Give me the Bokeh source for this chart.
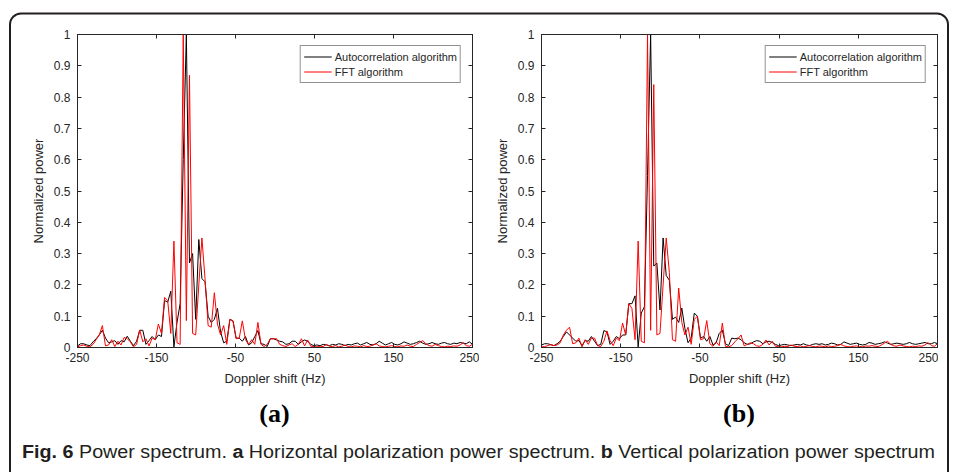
import numpy as np
from bokeh.plotting import figure
from bokeh.models import (FixedTicker, LinearAxis, Range1d, Legend, LegendItem, Div,
                          CustomJSTickFormatter)
from bokeh.layouts import row, column
from bokeh.embed import file_html
from bokeh.resources import INLINE

# ---------------- data ----------------
doppler_hz = np.linspace(-250, 250, 128)   # frequency bins of the spectrum

auto_h = [0.005, 0.012, 0.012, 0.008, 0.006, 0.018, 0.028, 0.040, 0.055, 0.030,
          0.015, 0.018, 0.022, 0.010, 0.022, 0.018, 0.036, 0.020, 0.006, 0.020,
          0.055, 0.055, 0.010, 0.022, 0.035, 0.025, 0.040, 0.035, 0.150, 0.145,
          0.180, 0.002, 0.080, 0.140, 0.600, 1.000, 0.270, 0.300, 0.090, 0.345,
          0.220, 0.210, 0.100, 0.080, 0.090, 0.125, 0.050, 0.015, 0.020, 0.090,
          0.085, 0.030, 0.030, 0.020, 0.035, 0.008, 0.015, 0.035, 0.054, 0.012,
          0.010, 0.003, 0.028, 0.028, 0.024, 0.020, 0.018, 0.010, 0.012, 0.020,
          0.020, 0.010, 0.018, 0.024, 0.020, 0.010, 0.006, 0.008, 0.006, 0.010,
          0.008, 0.006, 0.010, 0.008, 0.012, 0.010, 0.006, 0.010, 0.008, 0.012,
          0.014, 0.008, 0.012, 0.016, 0.010, 0.008, 0.012, 0.020, 0.014, 0.008,
          0.012, 0.016, 0.010, 0.008, 0.012, 0.018, 0.014, 0.010, 0.012, 0.016,
          0.020, 0.014, 0.010, 0.012, 0.016, 0.012, 0.010, 0.014, 0.016, 0.012,
          0.010, 0.014, 0.012, 0.016, 0.014, 0.012, 0.018, 0.010]

fft_h = [0.002, 0.006, 0.008, 0.004, 0.002, 0.010, 0.025, 0.040, 0.070, 0.005,
         0.008, 0.025, 0.003, 0.020, 0.008, 0.032, 0.028, 0.018, 0.002, 0.010,
         0.056, 0.018, 0.028, 0.005, 0.030, 0.025, 0.075, 0.045, 0.160, 0.150,
         0.045, 0.340, 0.015, 0.010, 1.000, 0.086, 0.870, 0.045, 0.040, 0.200,
         0.350, 0.220, 0.070, 0.065, 0.175, 0.075, 0.040, 0.070, 0.010, 0.090,
         0.085, 0.028, 0.030, 0.085, 0.025, 0.010, 0.025, 0.010, 0.080, 0.010,
         0.003, 0.010, 0.028, 0.028, 0.028, 0.010, 0.006, 0.003, 0.008, 0.012,
         0.003, 0.010, 0.028, 0.005, 0.024, 0.004, 0.003, 0.002, 0.004, 0.003,
         0.010, 0.004, 0.003, 0.006, 0.002, 0.004, 0.008, 0.003, 0.002, 0.005,
         0.004, 0.002, 0.006, 0.003, 0.004, 0.008, 0.012, 0.005, 0.003, 0.002,
         0.004, 0.006, 0.003, 0.002, 0.005, 0.004, 0.008, 0.004, 0.003, 0.010,
         0.016, 0.022, 0.012, 0.006, 0.004, 0.010, 0.006, 0.003, 0.002, 0.004,
         0.003, 0.005, 0.004, 0.008, 0.015, 0.006, 0.004, 0.010]

auto_v = [0.008, 0.012, 0.012, 0.009, 0.006, 0.012, 0.020, 0.035, 0.050, 0.040,
          0.030, 0.020, 0.022, 0.006, 0.022, 0.020, 0.035, 0.020, 0.006, 0.010,
          0.054, 0.050, 0.010, 0.020, 0.035, 0.028, 0.040, 0.040, 0.140, 0.140,
          0.165, 0.002, 0.110, 0.130, 0.550, 1.000, 0.260, 0.270, 0.120, 0.350,
          0.230, 0.215, 0.090, 0.097, 0.080, 0.126, 0.060, 0.015, 0.030, 0.110,
          0.100, 0.030, 0.035, 0.020, 0.035, 0.008, 0.015, 0.045, 0.055, 0.012,
          0.006, 0.030, 0.028, 0.030, 0.025, 0.015, 0.010, 0.012, 0.018, 0.022,
          0.020, 0.012, 0.018, 0.020, 0.016, 0.010, 0.006, 0.008, 0.010, 0.008,
          0.006, 0.008, 0.010, 0.008, 0.012, 0.008, 0.006, 0.010, 0.012, 0.010,
          0.012, 0.008, 0.010, 0.014, 0.012, 0.008, 0.010, 0.018, 0.014, 0.010,
          0.012, 0.014, 0.010, 0.008, 0.010, 0.016, 0.014, 0.010, 0.012, 0.014,
          0.018, 0.014, 0.010, 0.012, 0.014, 0.012, 0.010, 0.012, 0.016, 0.012,
          0.010, 0.012, 0.014, 0.016, 0.012, 0.012, 0.016, 0.012]

fft_v = [0.002, 0.003, 0.006, 0.009, 0.006, 0.008, 0.015, 0.040, 0.055, 0.065,
         0.012, 0.015, 0.030, 0.002, 0.025, 0.010, 0.030, 0.030, 0.006, 0.003,
         0.020, 0.053, 0.022, 0.006, 0.030, 0.022, 0.078, 0.040, 0.140, 0.125,
         0.025, 0.340, 0.020, 0.015, 1.000, 0.055, 0.840, 0.040, 0.045, 0.200,
         0.350, 0.240, 0.025, 0.020, 0.190, 0.080, 0.040, 0.065, 0.010, 0.090,
         0.100, 0.025, 0.028, 0.086, 0.012, 0.004, 0.018, 0.006, 0.078, 0.004,
         0.002, 0.006, 0.018, 0.028, 0.040, 0.005, 0.010, 0.015, 0.012, 0.005,
         0.004, 0.010, 0.024, 0.008, 0.020, 0.004, 0.003, 0.002, 0.004, 0.003,
         0.008, 0.004, 0.003, 0.005, 0.002, 0.004, 0.006, 0.003, 0.002, 0.005,
         0.004, 0.002, 0.005, 0.003, 0.004, 0.006, 0.010, 0.005, 0.003, 0.002,
         0.004, 0.005, 0.003, 0.002, 0.005, 0.004, 0.006, 0.004, 0.003, 0.008,
         0.014, 0.020, 0.010, 0.005, 0.004, 0.008, 0.005, 0.003, 0.002, 0.004,
         0.003, 0.005, 0.004, 0.008, 0.016, 0.006, 0.004, 0.012]

x_ticks = [-250, -150, -50, 50, 150, 250]
x_tick_labels = ["-250", "-150", "-50", "50", "150", "250"]
y_ticks = [0, 0.1, 0.2, 0.3, 0.4, 0.5, 0.6, 0.7, 0.8, 0.9, 1]
y_tick_labels = ["0", "0.1", "0.2", "0.3", "0.4", "0.5", "0.6", "0.7", "0.8", "0.9", "1"]
series_labels = ["Autocorrelation algorithm", "FFT algorithm"]
series_colors = ["#000000", "#ff0000"]
x_title = "Doppler shift (Hz)"
y_title = "Normalized power"
panel_tags = ["(a)", "(b)"]
caption_parts = [("Fig. 6", True), (" Power spectrum. ", False), ("a", True),
                 (" Horizontal polarization power spectrum. ", False), ("b", True),
                 (" Vertical polarization power spectrum", False)]

INK = "#262626"
BORDER = "#231f20"
FONT = "Liberation Sans"
SERIF = "'Liberation Serif', 'DejaVu Serif', 'Times New Roman', serif"

# page geometry (pixels)
TOP_H, SIDE_W, FIG_W, FIG_H = 20, 20, 459, 376
BOTTOM_H = 472 - TOP_H - FIG_H


def style_axis(ax, show_labels):
    ax.major_tick_in = 4
    ax.major_tick_out = 0
    ax.minor_tick_line_color = None
    ax.axis_line_color = INK
    ax.major_tick_line_color = INK
    ax.major_label_text_font = FONT
    ax.major_label_text_font_size = "12px"
    ax.major_label_text_color = INK
    if not show_labels:
        ax.formatter = CustomJSTickFormatter(code="return ''")
        ax.major_label_text_font_size = "0px"
        ax.major_label_standoff = 0


def make_panel(auto, fft, left_b, right_b):
    p = figure(width=FIG_W, height=FIG_H, x_range=Range1d(-250, 250), y_range=Range1d(0, 1),
               output_backend="svg", toolbar_location=None, tools="",
               min_border_left=left_b, min_border_right=right_b,
               min_border_top=34 - TOP_H, min_border_bottom=TOP_H + FIG_H - 347,
               background_fill_color="white", border_fill_color="white",
               outline_line_color=INK)
    p.grid.visible = False

    xa = p.xaxis[0]
    style_axis(xa, True)
    xa.ticker = FixedTicker(ticks=x_ticks)
    xa.major_label_overrides = dict(zip(x_ticks, x_tick_labels))
    xa.major_label_standoff = 5
    xa.axis_label = x_title
    xa.axis_label_text_font = FONT
    xa.axis_label_text_font_size = "13px"
    xa.axis_label_text_font_style = "normal"
    xa.axis_label_text_color = INK
    xa.axis_label_standoff = 6

    ya = p.yaxis[0]
    style_axis(ya, True)
    ya.ticker = FixedTicker(ticks=y_ticks)
    ya.major_label_overrides = dict(zip(y_ticks, y_tick_labels))
    ya.major_label_standoff = 7
    ya.axis_label = y_title
    ya.axis_label_text_font = FONT
    ya.axis_label_text_font_size = "13px"
    ya.axis_label_text_font_style = "normal"
    ya.axis_label_text_color = INK
    ya.axis_label_standoff = 5

    top = LinearAxis(ticker=FixedTicker(ticks=x_ticks))
    style_axis(top, False)
    p.add_layout(top, "above")
    right = LinearAxis(ticker=FixedTicker(ticks=y_ticks))
    style_axis(right, False)
    p.add_layout(right, "right")

    r1 = p.line(doppler_hz, auto, line_color=series_colors[0], line_width=1)
    r2 = p.line(doppler_hz, fft, line_color=series_colors[1], line_width=1)

    leg = Legend(items=[LegendItem(label=series_labels[0], renderers=[r1]),
                        LegendItem(label=series_labels[1], renderers=[r2])],
                 location="top_right", margin=11, padding=3, spacing=0,
                 label_text_font=FONT, label_text_font_size="11px", label_text_color=INK,
                 glyph_width=28, glyph_height=15, label_height=15, label_standoff=3,
                 border_line_color=INK, border_line_width=1,
                 background_fill_color="white", background_fill_alpha=1)
    p.add_layout(leg)
    return p


# frame A spans x 77..472, frame B spans x 541..937 (page pixels)
pa = make_panel(auto_h, fft_h, 77 - SIDE_W, SIDE_W + FIG_W - 472)
pb = make_panel(auto_v, fft_v, 541 - SIDE_W - FIG_W, SIDE_W + 2 * FIG_W - 937)


def border_svg(x0, y0, w, h, extra=""):
    return (f'<svg xmlns="http://www.w3.org/2000/svg" width="{w}" height="{h}" '
            f'style="display:block;overflow:hidden">'
            f'<rect x="{10 - x0}" y="{13.5 - y0}" width="938" height="700" rx="11" ry="11" '
            f'fill="none" stroke="{BORDER}" stroke-width="2"/>{extra}</svg>')


def div(html, w, h):
    return Div(text=html, width=w, height=h, margin=(0, 0, 0, 0))


top_div = div(border_svg(0, 0, 958, TOP_H), 958, TOP_H)
left_div = div(border_svg(0, TOP_H, SIDE_W, FIG_H), SIDE_W, FIG_H)
right_div = div(border_svg(SIDE_W + 2 * FIG_W, TOP_H, SIDE_W, FIG_H), SIDE_W, FIG_H)

y0 = TOP_H + FIG_H
spans = "".join(
    f'<tspan font-weight="{"bold" if b else "normal"}">{t.replace(" ", "&#160;")}</tspan>'
    for t, b in caption_parts)
tags = "".join(
    f'<text x="{cx}" y="{422 - y0}" text-anchor="middle" '
    f'style="font-family:{SERIF};font-weight:bold;font-size:26px" fill="#000">{t}</text>'
    for t, cx in zip(panel_tags, [274.5, 739]))
caption = (f'<text x="22" y="{458 - y0}" style="font-family:\'Liberation Sans\',sans-serif;'
           f'font-size:18px" fill="#231f20" textLength="913" '
           f'lengthAdjust="spacingAndGlyphs">{spans}</text>')
bottom_div = div(border_svg(0, y0, 958, BOTTOM_H, tags + caption), 958, BOTTOM_H)

layout = column(top_div, row(left_div, pa, pb, right_div, spacing=0), bottom_div, spacing=0)
open("out.html", "w").write(file_html(layout, INLINE))
